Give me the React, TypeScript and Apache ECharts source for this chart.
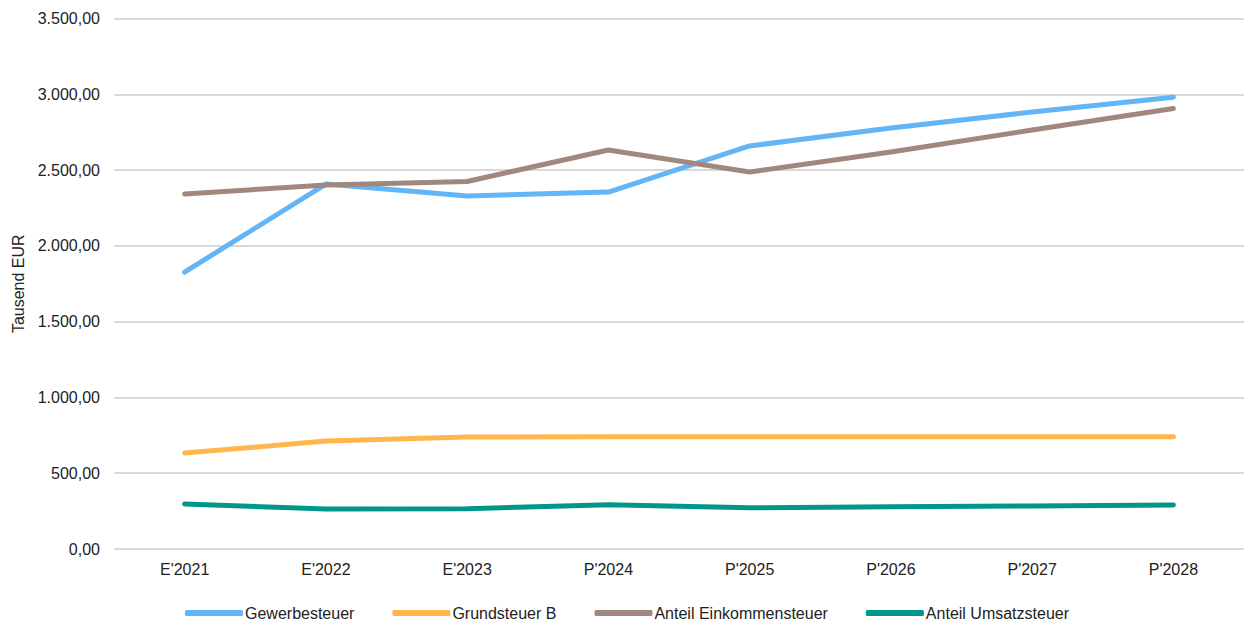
import React, { useEffect, useRef } from "react";
import * as echarts from "echarts";

const categories = ["E'2021", "E'2022", "E'2023", "P'2024", "P'2025", "P'2026", "P'2027", "P'2028"];
const gewerbesteuer = [1827, 2408, 2329, 2355, 2659, 2778, 2883, 2980];
const grundsteuerB = [633, 712, 739, 741, 741, 741, 741, 741];
const einkommensteuer = [2342, 2402, 2425, 2632, 2487, 2619, 2764, 2906];
const umsatzsteuer = [297, 264, 266, 292, 272, 278, 284, 290];

const seriesNames = ["Gewerbesteuer", "Grundsteuer B", "Anteil Einkommensteuer", "Anteil Umsatzsteuer"];
const seriesColors = ["#64b5f6", "#ffb74d", "#a1887f", "#009688"];
const seriesData = [gewerbesteuer, grundsteuerB, einkommensteuer, umsatzsteuer];

const fmt = (v: number) =>
  v.toLocaleString("de-DE", { minimumFractionDigits: 2, maximumFractionDigits: 2 });

export default function App() {
  const ref = useRef<HTMLDivElement>(null);
  useEffect(() => {
    if (!ref.current) return;
    const chart = echarts.init(ref.current, undefined, { renderer: "svg" });
    chart.setOption({
      animation: false,
      textStyle: { fontFamily: "Liberation Sans, Arial, sans-serif" },
      grid: { left: 114, right: 1, top: 18.5, bottom: 622 - 549 },
      legend: {
        top: 600,
        left: 180,
        icon: "roundRect",
        itemWidth: 58,
        itemHeight: 6,
        itemGap: 38,
        textStyle: { fontSize: 16, color: "#222", padding: [0, 0, 0, -3] },
        data: seriesNames,
      },
      xAxis: {
        type: "category",
        data: categories,
        boundaryGap: true,
        axisLine: { show: false },
        axisTick: { show: false },
        axisLabel: { fontSize: 16, color: "#222", margin: 12 },
      },
      yAxis: {
        type: "value",
        min: 0,
        max: 3500,
        interval: 500,
        name: "Tausend EUR",
        nameLocation: "middle",
        nameGap: 84,
        nameRotate: 90,
        nameTextStyle: { fontSize: 16, color: "#222" },
        axisLabel: { fontSize: 16, color: "#222", margin: 14, formatter: (v: number) => fmt(v) },
        splitLine: { lineStyle: { color: "#d9d9d9", width: 2 } },
        axisLine: { show: false },
        axisTick: { show: false },
      },
      series: seriesNames.map((name, i) => ({
        name,
        type: "line",
        data: seriesData[i],
        symbol: "none",
        color: seriesColors[i],
        lineStyle: { width: 5, color: seriesColors[i], cap: "round", join: "round" },
      })),
    });
    return () => chart.dispose();
  }, []);
  return <div ref={ref} style={{ width: 1245, height: 622, position: "absolute", left: 0, top: 0 }} />;
}
